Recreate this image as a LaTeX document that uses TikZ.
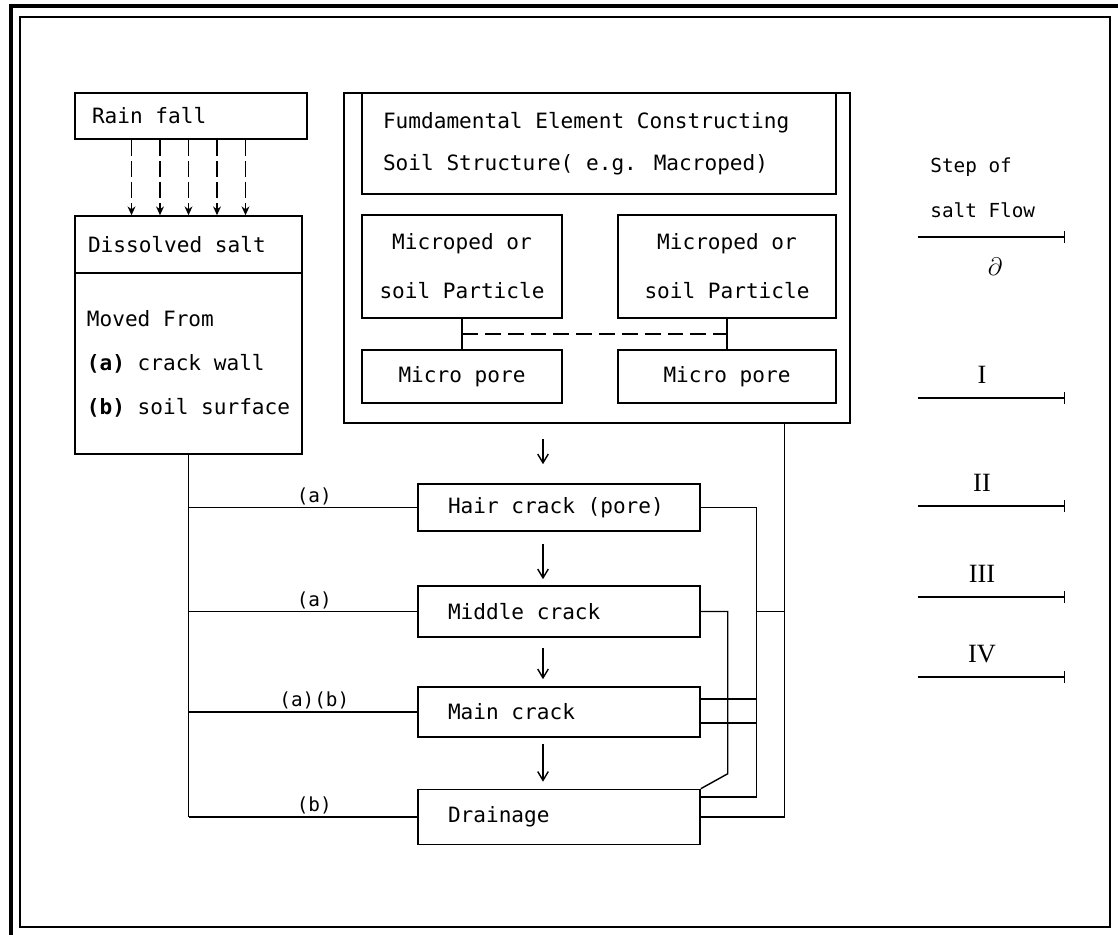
\documentclass[tikz,border=0pt]{standalone}
\usepackage{fontspec}
\setmainfont{DejaVu Sans Mono}
\newfontfamily\numfont{Liberation Serif}
\usepackage{tikz}
\usetikzlibrary{arrows.meta, positioning, calc}
\newcommand\monospc{\spaceskip0pt\relax\xspaceskip0pt\relax}

\begin{document}
\begin{tikzpicture}[x=0.02cm, y=-0.02cm,
  box/.style={draw, line width=0.9pt, inner ysep=0pt, font=\fontsize{12}{24}\selectfont,
    execute at begin node={\monospc}},
  crk/.style={box, minimum width=5.64cm, text width=4.44cm, inner xsep=0.6cm, align=left},
  ln/.style={line width=0.8pt},
  ar/.style={line width=0.8pt, -{Straight Barb[length=5pt, width=6pt]}},
  rainar/.style={line width=0.8pt, dash pattern=on 9pt off 3pt, -{Stealth[length=5pt, width=4.5pt]}},
  lbl/.style={font=\fontsize{11}{12}\selectfont, inner sep=1pt},
  lgt/.style={font=\fontsize{11}{12}\selectfont, inner sep=0pt},
  leg/.style={line width=0.8pt, -{Bar[width=7pt]}},
  rom/.style={font=\numfont\fontsize{15}{16}\selectfont, inner sep=0pt},
]
  \useasboundingbox (0,0) rectangle (1118,935);
  \draw[line width=1.8pt] (11,935) -- (11,6) -- (1118,6);
  \draw[line width=0.9pt] (20,17) rectangle (1110,927);

  \node[box, minimum width=4.64cm, minimum height=0.92cm, text width=3.96cm, inner xsep=0.34cm, align=left] (rain) at (191,116) {Rain fall};
  \node[box, minimum width=4.54cm, minimum height=1.14cm, text width=4.02cm, inner xsep=0.26cm, align=left] (dsalt) at (188.5,244.5) {Dissolved salt};
  \node[box, minimum width=4.54cm, minimum height=3.62cm, align=left, font=\fontsize{12}{25}\selectfont] (moved) at (188.5,363.5) {Moved From\\\textbf{(a)} crack wall\\\textbf{(b)} soil surface};

  \node[box, minimum width=10.12cm, minimum height=6.6cm] (bigbox) at (597,258) {};
  \node[box, minimum width=9.48cm, minimum height=2.02cm, text width=8.64cm, inner xsep=0.42cm, align=left] (fund) at (599,143.5) {Fumdamental Element Constructing\\Soil Structure( e.g. Macroped)};
  \node[box, minimum width=4cm, minimum height=2.06cm, align=center, font=\fontsize{12}{28}\selectfont] (mp1) at (462,266.5) {Microped or\\soil Particle};
  \node[box, minimum width=4.36cm, minimum height=2.06cm, align=center, font=\fontsize{12}{28}\selectfont] (mp2) at (727,266.5) {Microped or\\soil Particle};
  \node[box, minimum width=4cm, minimum height=1.06cm] (pore1) at (462,376.5) {Micro pore};
  \node[box, minimum width=4.36cm, minimum height=1.06cm] (pore2) at (727,376.5) {Micro pore};

  \node[crk, minimum height=0.94cm] (hair)  at (559,507.5) {Hair crack (pore)};
  \node[crk, minimum height=1.02cm] (midc)  at (559,611.5) {Middle crack};
  \node[crk, minimum height=1.0cm]  (mainc) at (559,712)   {Main crack};
  \node[crk, minimum height=1.1cm]  (drain) at (559,817)   {Drainage};

  \foreach \dx in {-57,-28.5,0,28.5,57}
    \draw[rainar] ($(dsalt.north |- rain.south)+(\dx,0)$) -- ($(dsalt.north)+(\dx,0)$);

  \draw[ln] (mp1.south) -- (pore1.north);
  \draw[ln] (mp2.south) -- (pore2.north);
  \draw[ln, dash pattern=on 9pt off 4pt] ($(mp1.south)!.5!(pore1.north)$) -- ($(mp2.south)!.5!(pore2.north)$);

  \draw[ar] ($(bigbox.south -| hair.north)+(-16,15)$) -- ($(hair.north)+(-16,-19)$);
  \draw[ar] ($(hair.south)+(-16,12)$) -- ($(midc.north)+(-16,-6)$);
  \draw[ar] ($(midc.south)+(-16,10)$) -- ($(mainc.north)+(-16,-7)$);
  \draw[ar] ($(mainc.south)+(-16,6)$) -- ($(drain.north)+(-16,-7)$);

  \draw[ln] (moved.south) -- (moved.south |- drain.west);
  \foreach \n/\l in {hair/{(a)}, midc/{(a)}, mainc/{(a)(b)}, drain/{(b)}}
    \draw[ln] (moved.south |- \n.west) -- node[lbl, above, pos=.55] {\l} (\n.west);

  \coordinate (rl) at ($(bigbox.south west)+(441,0)$);
  \draw[ln] (rl) |- (drain.east);
  \draw[ln] (hair.east) -| ($(drain.east)+(56,-20)$) -- ($(drain.east)+(0,-20)$);
  \draw[ln] (midc.east) -| ($(drain.north east)+(27,-15)$) -- (drain.north east);
  \draw[ln] ($(mainc.east)+(0,-13)$) -- ++(56,0);
  \draw[ln] ($(mainc.east)+(0,11)$) -- ++(56,0);
  \draw[ln] ($(midc.east)+(56,0)$) -- (midc.east -| rl);

  \node[lgt, anchor=west] (stp) at (930,167) {Step of};
  \node[lgt, anchor=west] (sflow) at (930,210) {salt Flow};
  \coordinate (s0a) at (918,237);
  \coordinate (s0b) at (1065,237);
  \draw[leg] (s0a) -- (s0b);
  \node[lbl, font=\Large] (s0l) at (995,267) {$\partial$};
  \foreach \yy/\nm/\lab in {398/s1/I, 506/s2/II, 597/s3/III, 677/s4/IV}{
    \coordinate (\nm a) at (918,\yy);
    \coordinate (\nm b) at (1065,\yy);
    \draw[leg] (\nm a) -- (\nm b);
    \node[rom] (\nm l) at (982,\yy-23) {\lab};
  }
\end{tikzpicture}
\end{document}
